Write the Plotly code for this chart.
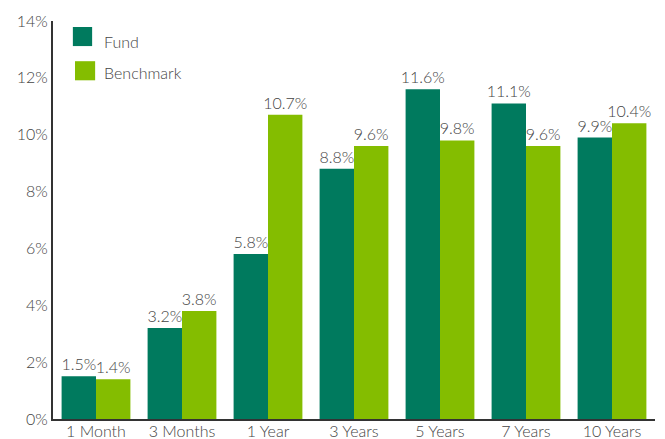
import plotly.graph_objects as go

categories = ["1 Month", "3 Months", "1 Year", "3 Years", "5 Years", "7 Years", "10 Years"]
fund = [1.5, 3.2, 5.8, 8.8, 11.6, 11.1, 9.9]
benchmark = [1.4, 3.8, 10.7, 9.6, 9.8, 9.6, 10.4]
series_names = ["Fund", "Benchmark"]
colors = ["#007A5E", "#84BD00"]

FONT = "Lato"
TXT = "#444444"
fig = go.Figure()
for name, vals, c in zip(series_names, [fund, benchmark], colors):
    fig.add_trace(go.Bar(
        x=categories, y=vals, name=name, marker=dict(color=c, line=dict(width=0)),
        text=[f"{v:.1f}%" for v in vals], textposition="outside",
        constraintext="none",
        textfont=dict(family=FONT, size=16, color=TXT, weight=300), cliponaxis=False,
        showlegend=False,
    ))

fig.update_layout(
    width=665, height=439,
    margin=dict(l=45, r=18, t=13, b=28, autoexpand=False),
    plot_bgcolor="white", paper_bgcolor="white",
    barmode="group", bargap=0.2, bargroupgap=0,
    font=dict(family=FONT, size=16, color=TXT, weight=300),
    xaxis=dict(showline=True, linecolor="#333333", linewidth=2, ticks="",
               automargin=False, ticklabelstandoff=-3,
               tickfont=dict(family=FONT, size=16, color=TXT, weight=300)),
    yaxis=dict(range=[0, 14], dtick=2, ticksuffix="%", showgrid=False,
               automargin=False,
               showline=True, linecolor="#333333", linewidth=2, ticks="",
               zeroline=False, tickfont=dict(family=FONT, size=16, color=TXT, weight=300)),
)

# legend drawn manually
legend_boxes = [(0.033, 0.065, 0.937, 0.985), (0.0365, 0.070, 0.851, 0.899)]
legend_text_y = [0.949, 0.871]
for name, c, (x0, x1, y0, y1), ty in zip(series_names, colors, legend_boxes, legend_text_y):
    fig.add_shape(type="rect", xref="paper", yref="paper",
                  x0=x0, x1=x1, y0=y0, y1=y1,
                  fillcolor=c, line=dict(width=0))
    fig.add_annotation(xref="paper", yref="paper", x=0.0814, y=ty, text=name,
                       showarrow=False, xanchor="left", yanchor="middle",
                       font=dict(family=FONT, size=16, color=TXT, weight=300))

fig.write_html("out.html")
